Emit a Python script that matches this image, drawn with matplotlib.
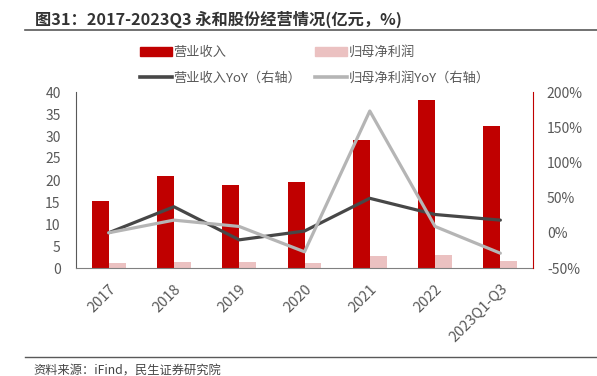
import matplotlib
matplotlib.use("Agg")
import matplotlib.pyplot as plt
import numpy as np
from matplotlib.lines import Line2D
from matplotlib.patches import Patch

plt.rcParams["font.family"] = ["Noto Sans CJK SC", "DejaVu Sans"]

# ── data ──────────────────────────────────────────────────────────────────
categories = ["2017", "2018", "2019", "2020", "2021", "2022", "2023Q1-Q3"]
revenue = [15.2, 20.8, 18.9, 19.6, 29.1, 38.2, 32.3]        # 亿元
net_profit = [1.2, 1.35, 1.4, 1.05, 2.8, 3.0, 1.6]          # 亿元
revenue_yoy = [0.0, 37.0, -10.0, 2.5, 49.0, 26.0, 18.0]     # %
profit_yoy = [0.0, 18.0, 9.0, -27.0, 173.0, 9.0, -29.0]     # %

RED = "#C00000"
PINK = "#EBC1C1"
DARK = "#474747"
LIGHT = "#B5B5B5"
TXT = "#595959"

fig = plt.figure(figsize=(5.97, 3.76), dpi=100)
ax = fig.add_axes([76 / 597, 1 - 268 / 376, 457 / 597, 176 / 376])
ax2 = ax.twinx()

x = np.arange(len(categories))
w = 0.26
ax.bar(x - w / 2, revenue, w, color=RED, zorder=2)
ax.bar(x + w / 2, net_profit, w, color=PINK, zorder=2)

ax2.plot(x, revenue_yoy, color=DARK, lw=2.3, solid_capstyle="round")
ax2.plot(x, profit_yoy, color=LIGHT, lw=2.3, solid_capstyle="round")

ax.set_xlim(-0.5, len(categories) - 0.5)
ax.set_ylim(0, 40)
ax.set_yticks(range(0, 41, 5))
ax2.set_ylim(-50, 200)
ax2.set_yticks(range(-50, 201, 50))
ax2.set_yticklabels([f"{v}%" for v in range(-50, 201, 50)])

ax.set_xticks(x)
ax.set_xticklabels(categories, rotation=45, ha="right", rotation_mode="anchor")

for a in (ax, ax2):
    a.spines["top"].set_visible(False)
    a.tick_params(length=0, colors=TXT, labelsize=10)
ax.spines["right"].set_visible(False)
ax.spines["left"].set_color("#595959")
ax.spines["bottom"].set_color("#808080")
ax2.spines["left"].set_visible(False)
ax2.spines["bottom"].set_visible(False)
ax2.spines["right"].set_color(RED)
ax.tick_params(axis="x", pad=10, labelsize=10.5)
ax.tick_params(axis="y", pad=11)
ax2.tick_params(axis="y", pad=10)

handles = [
    Patch(color=RED, label="营业收入"),
    Line2D([], [], color=DARK, lw=2.6, label="营业收入YoY（右轴）"),
    Patch(color=PINK, label="归母净利润"),
    Line2D([], [], color=LIGHT, lw=2.6, label="归母净利润YoY（右轴）"),
]
fig.legend(handles=handles, ncol=2, loc="upper left",
           bbox_to_anchor=(128 / 597, 1 - 34 / 376), frameon=False,
           fontsize=9.5, handlelength=2.4, handletextpad=0.15,
           columnspacing=1.05, labelspacing=1.0, labelcolor=TXT)

# title and source
fig.text(35 / 597, 1 - 19 / 376, "图31：2017-2023Q3 永和股份经营情况(亿元，%)",
         fontsize=11.7, weight="bold", color="#333333", va="center")
fig.add_artist(Line2D([25 / 597, 1], [1 - 29.5 / 376] * 2, color="#595959", lw=1.2))
fig.add_artist(Line2D([25 / 597, 1], [1 - 357 / 376] * 2, color="#595959", lw=1.0))
fig.text(33 / 597, 1 - 371 / 376, "资料来源：iFind，民生证券研究院",
         fontsize=8.8, color="#444444", va="center")

fig.savefig("out.png", dpi=100)
